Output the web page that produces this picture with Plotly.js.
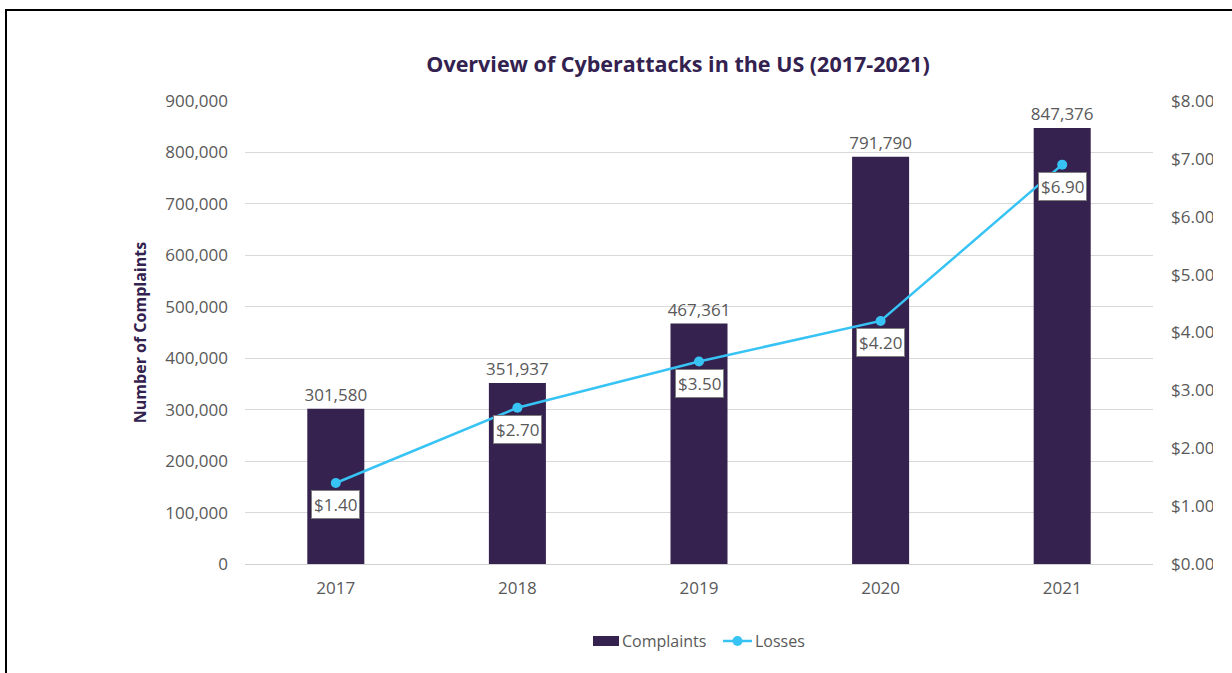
<!DOCTYPE html>
<html><head><meta charset="utf-8">
<script src="https://cdn.plot.ly/plotly-3.0.1.min.js"></script>
<style>
html,body{margin:0;padding:0;width:1232px;height:673px;overflow:hidden;background:#fff;}
#frame{position:absolute;left:5px;top:9px;width:1300px;height:700px;border-left:2px solid #000;border-top:2px solid #000;}
#clip{position:absolute;left:0;top:12px;width:1213px;height:661px;overflow:hidden;}
#chart{position:absolute;left:0;top:-12px;width:1262px;height:673px;}
</style></head>
<body>
<div id="frame"></div>
<div id="clip"><div id="chart"></div></div>
<script>
const years = ['2017','2018','2019','2020','2021'];
const complaints = [301580, 351937, 467361, 791790, 847376];
const losses = [1.40, 2.70, 3.50, 4.20, 6.90];
const seriesNames = ['Complaints', 'Losses'];

const purple = '#35224f';
const blue = '#38c3f5';
const gray = '#595959';
const font = 'Open Sans, Noto Sans, sans-serif';

const traces = [
  {type:'bar', name:seriesNames[0], x:years, y:complaints, marker:{color:purple},
   texttemplate:'%{y:,}', textposition:'outside', cliponaxis:false, constraintext:'none',
   textfont:{family:font, size:17, color:gray}, hoverinfo:'skip', showlegend:false},
  {type:'scatter', mode:'lines+markers', name:seriesNames[1], x:years, y:losses, yaxis:'y2',
   line:{color:blue, width:2.5}, marker:{color:blue, size:10}, hoverinfo:'skip', showlegend:false}
];

const annotations = years.map((yr,i)=>({
  x:i, y:losses[i], xref:'x', yref:'y2', text:'$'+losses[i].toFixed(2),
  showarrow:false, yshift:-22, bgcolor:'#ffffff', bordercolor:'#7f7f7f', borderwidth:1, borderpad:2,
  font:{family:font, size:17, color:gray}
}));

// custom legend (paper coords)
const ly = -77/463;
const px = v => (v-245)/908;
annotations.push({xref:'paper', yref:'paper', x:px(620), y:ly, xanchor:'left', yanchor:'middle',
  text:seriesNames[0], showarrow:false, font:{family:font, size:16, color:gray}});
annotations.push({xref:'paper', yref:'paper', x:px(753), y:ly, xanchor:'left', yanchor:'middle',
  text:seriesNames[1], showarrow:false, font:{family:font, size:16, color:gray}});
const shapes = [
  {type:'rect', xref:'paper', yref:'paper', x0:px(593), x1:px(619), y0:ly-5/463, y1:ly+5/463,
   fillcolor:purple, line:{width:0}},
  {type:'line', xref:'paper', yref:'paper', x0:px(723), x1:px(752), y0:ly, y1:ly, line:{color:blue, width:2.5}},
  {type:'circle', xref:'paper', yref:'paper', x0:px(732.5), x1:px(742.5), y0:ly-5/463, y1:ly+5/463,
   fillcolor:blue, line:{width:0}}
];

const layout = {
  width:1262, height:673,
  margin:{l:245, r:109, t:101, b:109},
  paper_bgcolor:'rgba(0,0,0,0)', plot_bgcolor:'rgba(0,0,0,0)',
  font:{family:font, color:gray, size:16},
  title:{text:'<b>Overview of Cyberattacks in the US (2017-2021)</b>', x:(678)/1262, xanchor:'center',
         y:1-64/673, yref:'container', yanchor:'middle',
         font:{family:font, size:21.5, color:'#33214f'}},
  bargap:0.686,
  showlegend:false,
  xaxis:{type:'category', range:[-0.5,4.5], showgrid:false, showline:false, ticks:'',
         ticklabelstandoff:12, tickfont:{size:17, color:gray}},
  yaxis:{range:[0,900000], dtick:100000, tickformat:',', gridcolor:'#d9d9d9', gridwidth:1,
         zeroline:true, zerolinecolor:'#d0d0d0', zerolinewidth:1, showline:false,
         ticks:'', ticklabelstandoff:16, tickfont:{size:17, color:gray}, automargin:false,
         title:{text:'<b>Number of Complaints</b>', standoff:14, font:{family:font, size:16, color:'#33214f'}}},
  yaxis2:{overlaying:'y', side:'right', range:[0,8], dtick:1, tickprefix:'$', tickformat:'.2f',
          showgrid:false, zeroline:false, showline:false, ticks:'', ticklabelstandoff:17,
          tickfont:{size:17, color:gray}, automargin:false},
  annotations:annotations,
  shapes:shapes
};

Plotly.newPlot('chart', traces, layout, {staticPlot:true, displayModeBar:false});
</script>
</body></html>
